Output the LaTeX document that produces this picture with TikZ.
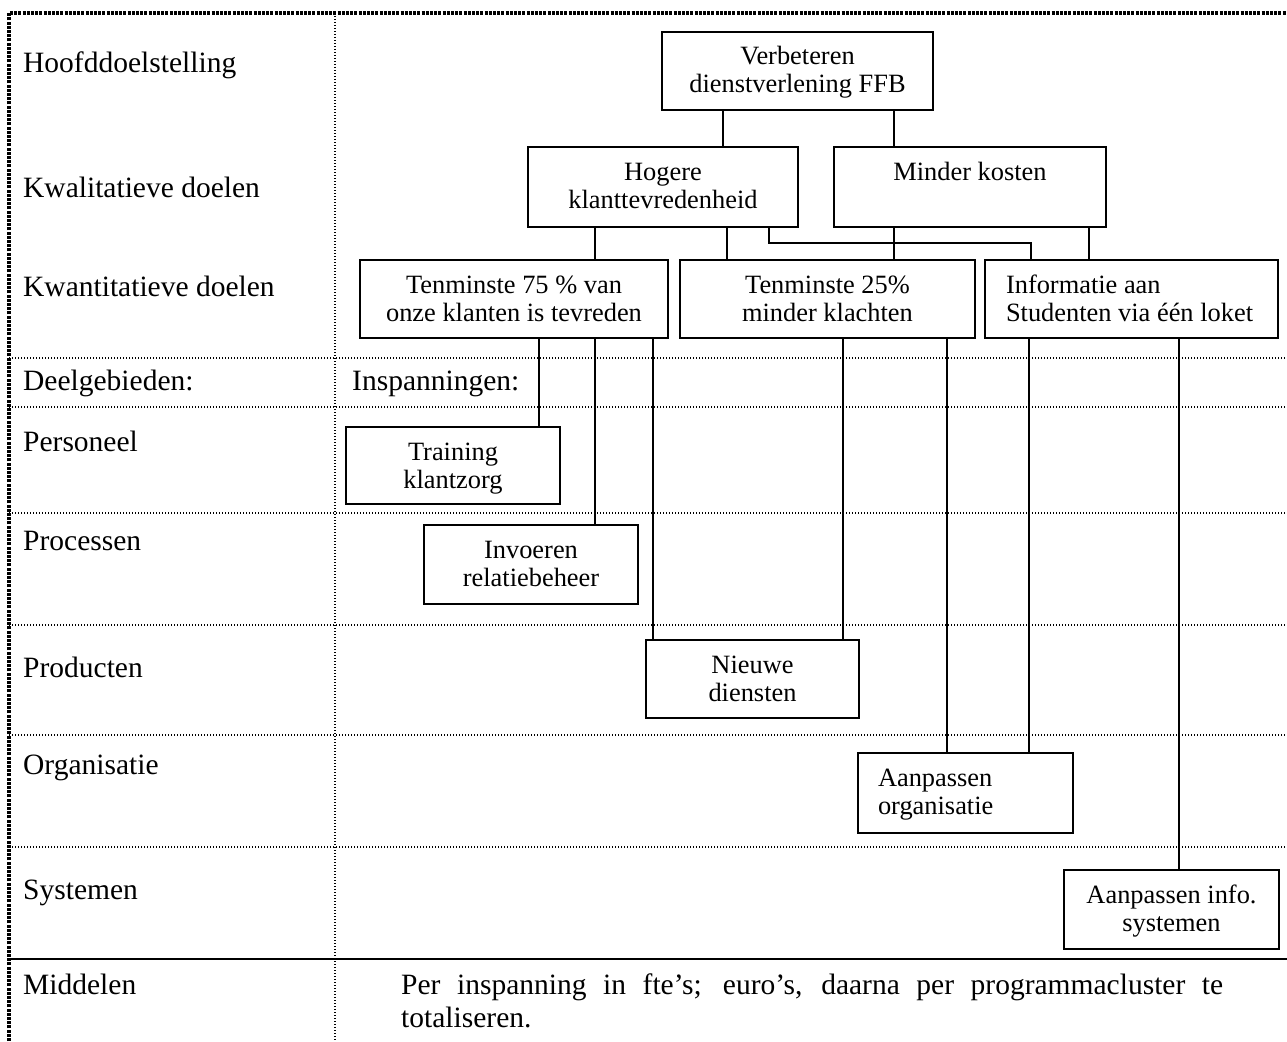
\documentclass[tikz,border=0pt]{standalone}
\usepackage{fontspec}
\setmainfont{Liberation Serif}
\usetikzlibrary{calc}

% text sizes (1pt = 1 unit of the drawing grid)
\newcommand{\labelfont}{\fontsize{29.5}{33}\selectfont}
\newcommand{\boxfont}{\fontsize{26.4}{28}\selectfont}
% box contents: width, height, alignment, text (first baseline 33pt below the top)
\newcommand{\boxbody}[4]{\parbox[c][#2][t]{#1}{\boxfont#3\rule{0pt}{33pt}#4}}

\tikzset{
  boxnode/.style={draw, rectangle, line width=2pt, inner sep=0pt, anchor=north west},
  conn/.style={line width=2pt},
  rowlabel/.style={anchor=base west, inner sep=0pt, font=\labelfont},
  gridline/.style={line width=1.4pt, dash pattern=on 1.4pt off 1.6pt},
  frameline/.style={line width=3.5pt, dash pattern=on 3pt off 1.2pt},
  solidrule/.style={line width=2.5pt},
}

\begin{document}
\begin{tikzpicture}[x=1pt,y=-1pt]
\useasboundingbox (0,0) rectangle (1287,1041);

% ---- table grid ----
\foreach \yy in {358,407,513,625,735,847}
  \draw[gridline] (9,\yy) -- (1287,\yy);
\draw[gridline] (335,13) -- (335,1041);
\draw[solidrule] (9,959) -- (1287,959);
\draw[frameline] (9,1041) -- (9,13) -- (1287,13);

% ---- row labels ----
\node[rowlabel] (lHoofd) at (23,72)  {Hoofddoelstelling};
\node[rowlabel] (lKwal)  at (23,197) {Kwalitatieve doelen};
\node[rowlabel] (lKwan)  at (23,296) {Kwantitatieve doelen};
\node[rowlabel] (lDeel)  at (23,390) {Deelgebieden:};
\node[rowlabel] (lPers)  at (23,451) {Personeel};
\node[rowlabel] (lProc)  at (23,550) {Processen};
\node[rowlabel] (lProd)  at (23,677) {Producten};
\node[rowlabel] (lOrg)   at (23,774) {Organisatie};
\node[rowlabel] (lSys)   at (23,899) {Systemen};
\node[rowlabel] (lMid)   at (23,994) {Middelen};
\node[rowlabel] (lInsp)  at (352,390) {Inspanningen:};
\node[anchor=base west, inner sep=0pt] (mid) at (401,994)
  {\parbox[t]{822pt}{\labelfont Per inspanning in fte’s; euro’s, daarna per programmacluster te\linebreak totaliseren.}};

% ---- goal boxes ----
\node[boxnode] (top)  at (661,31)  {\boxbody{271pt}{78pt}{\centering}{Verbeteren\\dienstverlening FFB}};
\node[boxnode] (hog)  at (527,146) {\boxbody{270pt}{80pt}{\centering}{Hogere\\klanttevredenheid}};
\node[boxnode] (mk)   at (833,146) {\boxbody{272pt}{80pt}{\centering}{Minder kosten}};
\node[boxnode] (k75)  at (359,259) {\boxbody{308pt}{78pt}{\centering}{Tenminste 75 \% van\\onze klanten is tevreden}};
\node[boxnode] (k25)  at (679,259) {\boxbody{295pt}{78pt}{\centering}{Tenminste 25\%\\minder klachten}};
\node[boxnode] (info) at (984,259) {\boxbody{293pt}{78pt}{\raggedright\hspace*{21pt}}{Informatie aan\\\hspace*{21pt}Studenten via één loket}};

% ---- effort boxes ----
\node[boxnode] (train) at (345,426)  {\boxbody{214pt}{77pt}{\centering}{Training\\klantzorg}};
\node[boxnode] (invo)  at (423,524)  {\boxbody{214pt}{79pt}{\centering}{Invoeren\\relatiebeheer}};
\node[boxnode] (nieuw) at (645,639)  {\boxbody{213pt}{78pt}{\centering}{Nieuwe\\diensten}};
\node[boxnode] (aorg)  at (857,752)  {\boxbody{215pt}{80pt}{\raggedright\hspace*{20pt}}{Aanpassen\\\hspace*{20pt}organisatie}};
\node[boxnode] (ainfo) at (1063,869) {\boxbody{215pt}{79pt}{\centering}{Aanpassen info.\\systemen}};

% ---- connector columns ----
\coordinate (vA) at (723,0);  \coordinate (vB) at (894,0);
\coordinate (h1) at (595,0);  \coordinate (h2) at (727,0);
\coordinate (m2) at (1089,0);
\coordinate (elb)  at (769,243); \coordinate (elbR) at (1031,243);
\coordinate (t1) at (539,0);  \coordinate (t3) at (653,0);
\coordinate (q1) at (843,0);  \coordinate (q2) at (947,0);
\coordinate (i1) at (1029,0); \coordinate (i2) at (1179,0);

\draw[conn] (top.south -| vA) -- (hog.north -| vA);
\draw[conn] (top.south -| vB) -- (mk.north -| vB);

\draw[conn] (hog.south -| h1) -- (k75.north -| h1);
\draw[conn] (hog.south -| h2) -- (k25.north -| h2);
\draw[conn] (hog.south -| elb) -- (elb) -- (elbR) -- (info.north -| elbR);
\draw[conn] (mk.south -| vB) -- (k25.north -| vB);
\draw[conn] (mk.south -| m2) -- (info.north -| m2);

\draw[conn] (k75.south -| t1) -- (train.north -| t1);
\draw[conn] (k75.south -| h1) -- (invo.north -| h1);
\draw[conn] (k75.south -| t3) -- (nieuw.north -| t3);
\draw[conn] (k25.south -| q1) -- (nieuw.north -| q1);
\draw[conn] (k25.south -| q2) -- (aorg.north -| q2);
\draw[conn] (info.south -| i1) -- (aorg.north -| i1);
\draw[conn] (info.south -| i2) -- (ainfo.north -| i2);
\end{tikzpicture}
\end{document}
